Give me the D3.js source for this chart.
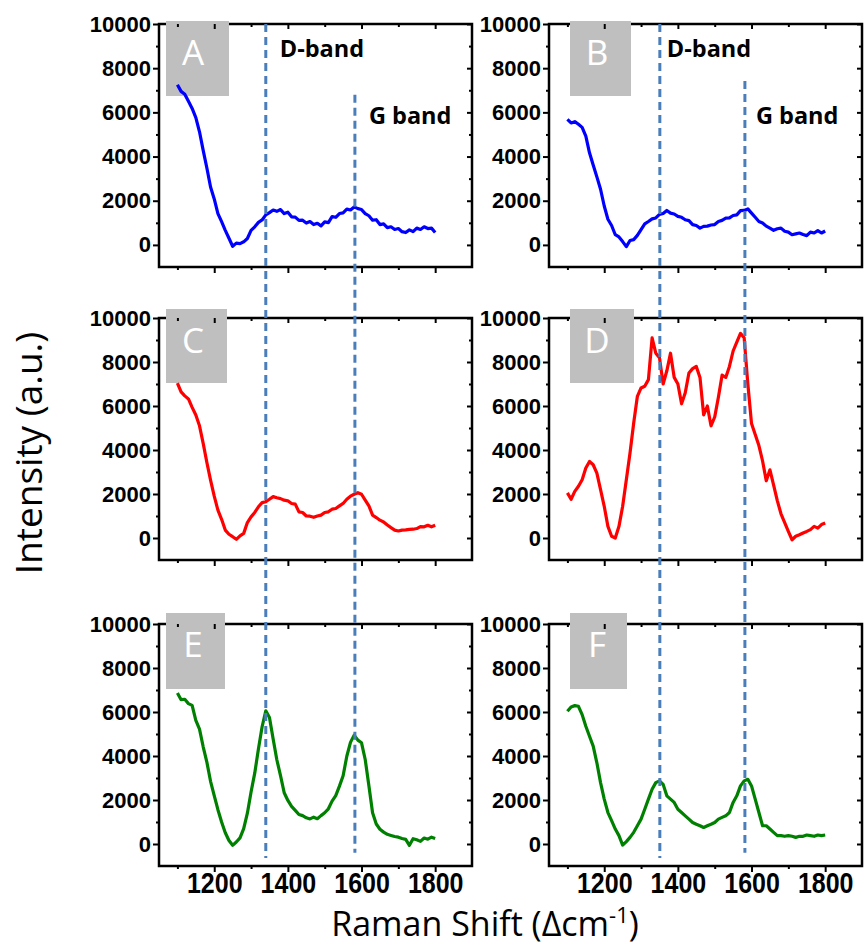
<!DOCTYPE html>
<html lang="en">
<head>
<meta charset="UTF-8">
<script src="https://d3js.org/d3.v7.min.js"></script>
<title>Raman spectra</title>
<style>
  body { margin: 0; background: #fff; }
</style>
</head>
<body>
<div id="chart"></div>
<script>
// ---------------- data ----------------
var shift = d3.range(1100, 1801, 10);   // Raman shift, cm-1

var specA = [7250, 6950, 6820, 6500, 6180, 5760, 5120, 4280, 3480, 2620,
  2080, 1420, 1050, 660, 300, -60, 80, 60, 140, 290,
  660, 820, 1020, 1130, 1360, 1460, 1580, 1520, 1600, 1420,
  1480, 1270, 1260, 1110, 1120, 990, 1060, 920, 980, 860,
  1040, 1010, 1280, 1250, 1420, 1450, 1620, 1580, 1720, 1640,
  1600, 1420, 1320, 1120, 1140, 920, 950, 780, 820, 700,
  740, 600, 560, 680, 600, 760, 700, 820, 740, 760,
  560];
var specB = [5680, 5520, 5580, 5460, 5320, 4920, 4170, 3620, 3080, 2520,
  1760, 1160, 880, 460, 360, 150, -80, 200, 240, 430,
  690, 950, 1060, 1180, 1220, 1380, 1420, 1560, 1440, 1400,
  1290, 1250, 1140, 1100, 920, 880, 760, 840, 850, 900,
  920, 1060, 1110, 1210, 1220, 1330, 1360, 1550, 1560, 1630,
  1440, 1250, 1060, 990, 850, 760, 660, 730, 760, 620,
  580, 460, 500, 540, 470, 420, 580, 540, 650, 540,
  630];
var specC = [7040, 6640, 6460, 6320, 5940, 5590, 5100, 4300, 3430, 2630,
  1900, 1270, 850, 360, 170, 60, -60, 100, 210, 700,
  960, 1160, 1420, 1610, 1650, 1760, 1880, 1830, 1790, 1720,
  1690, 1570, 1540, 1190, 1160, 1000, 990, 940, 1000, 1040,
  1160, 1190, 1310, 1340, 1460, 1570, 1760, 1900, 1990, 2060,
  1990, 1720, 1460, 1040, 930, 810, 730, 590, 470, 360,
  320, 360, 370, 390, 400, 430, 520, 510, 580, 510,
  580];
var specD = [2050, 1760, 2120, 2350, 2650, 3180, 3480, 3330, 2950, 2200,
  1440, 530, 80, 0, 530, 1440, 2650, 3860, 5230, 6440,
  6820, 6900, 7200, 9100, 8400, 8200, 7000, 7600, 8400, 7300,
  7000, 6100, 6600, 7500, 7700, 7800, 7300, 5600, 6000, 5100,
  5500, 6400, 7400, 7300, 7800, 8500, 8900, 9300, 9100, 7000,
  5200, 4700, 4200, 3500, 2600, 3100, 2400, 1700, 1100, 700,
  300, -80, 80, 150, 230, 300, 380, 530, 450, 610,
  680];
var specE = [6860, 6560, 6580, 6380, 6300, 5620, 5220, 4420, 3720, 2850,
  2200, 1560, 1000, 510, 160, -60, 90, 280, 700, 1400,
  2360, 3220, 4320, 5330, 6050, 5750, 4770, 3830, 3110, 2330,
  1980, 1710, 1530, 1340, 1290, 1190, 1140, 1220, 1150, 1290,
  1420, 1600, 1950, 2200, 2630, 3100, 3990, 4620, 4950, 4720,
  4600, 3840, 2650, 1420, 910, 670, 540, 440, 390, 340,
  310, 250, 210, -60, 240, 190, 120, 270, 220, 310,
  250];
var specF = [6030, 6230, 6290, 6260, 5880, 5350, 4900, 4450, 3690, 2790,
  2040, 1430, 1060, 680, 380, -50, 110, 300, 530, 830,
  1130, 1580, 2040, 2490, 2790, 2870, 2710, 2190, 2040, 1890,
  1580, 1430, 1280, 1130, 980, 900, 830, 750, 830, 900,
  980, 1130, 1210, 1280, 1430, 1890, 2190, 2640, 2870, 2940,
  2640, 2040, 1430, 830, 830, 680, 530, 380, 380, 350,
  380, 350, 300, 350, 350, 410, 380, 350, 410, 380,
  410];

var yTicks = [0, 2000, 4000, 6000, 8000, 10000];
var yMinor = [1000, 3000, 5000, 7000, 9000];
var xTicks = [1200, 1400, 1600, 1800];
var xMinor = [1100, 1300, 1500, 1700];

// dashed band markers per column: [D-band, G band] position, top value, bottom value
var bandPos = [[1340, 1582], [1351, 1582]];
var bandTop = [[10000, 6800], [10000, 7420]];
var bandBottom = [-640, -400];
var bandNames = ["D-band", "G band"];

// ---------------- layout ----------------
var width = 865, height = 949;
var cols = [[159, 472], [549, 862]];
var rows = [[24, 267], [318, 560], [624, 866]];

var panels = [
  {label: "A", values: specA, color: "#0000ff", col: 0, row: 0, box: [7, -3, 63, 75]},
  {label: "B", values: specB, color: "#0000ff", col: 1, row: 0, box: [21, -3, 61, 75]},
  {label: "C", values: specC, color: "#ff0000", col: 0, row: 1, box: [7, -9, 61, 74]},
  {label: "D", values: specD, color: "#ff0000", col: 1, row: 1, box: [21, -9, 64, 74]},
  {label: "E", values: specE, color: "#008000", col: 0, row: 2, box: [7, -11, 59, 76]},
  {label: "F", values: specF, color: "#008000", col: 1, row: 2, box: [21, -11, 57, 76]}
];

var svg = d3.select("#chart").append("svg")
  .attr("width", width).attr("height", height)
  .style("font-family", "'Liberation Sans', Arial, sans-serif");

svg.append("rect").attr("width", width).attr("height", height).attr("fill", "#fff");

var xScales = cols.map(function(c) {
  return d3.scaleLinear().domain([1050, 1900]).range(c);
});
var yScales = rows.map(function(r) {
  return d3.scaleLinear().domain([-1000, 10000]).range([r[1], r[0]]);
});

panels.forEach(function(p) {
  var x = xScales[p.col], y = yScales[p.row];
  var g = svg.append("g");
  var x0 = cols[p.col][0], x1 = cols[p.col][1];
  var y0 = rows[p.row][0], y1 = rows[p.row][1];

  function clean(a) { a.select(".domain").remove(); }

  // frame
  g.append("rect")
    .attr("x", x0).attr("y", y0)
    .attr("width", x1 - x0).attr("height", y1 - y0)
    .attr("fill", "none").attr("stroke", "#000").attr("stroke-width", 2.5);

  // letter box (sits over the frame, under ticks and curve)
  g.append("rect")
    .attr("x", x0 + p.box[0]).attr("y", y0 + p.box[1])
    .attr("width", p.box[2]).attr("height", p.box[3])
    .attr("fill", "#bfbfbf");

  // left axis
  g.append("g").attr("transform", "translate(" + x0 + ",0)")
    .call(d3.axisLeft(y).tickValues(yTicks).tickSize(6).tickPadding(2).tickFormat(d3.format("d")))
    .call(clean)
    .call(function(a) {
      a.selectAll("line").attr("stroke-width", 2);
      a.selectAll("text").attr("font-size", 22).attr("font-weight", "bold")
        .attr("font-family", "'Liberation Sans', Arial, sans-serif").attr("fill", "#000");
    });
  g.append("g").attr("transform", "translate(" + x0 + ",0)")
    .call(d3.axisLeft(y).tickValues(yMinor).tickSize(3).tickFormat(""))
    .call(clean).selectAll("line").attr("stroke-width", 2);

  // right axis (inward)
  g.append("g").attr("transform", "translate(" + x1 + ",0)")
    .call(d3.axisRight(y).tickValues(yTicks).tickSize(-5).tickFormat(""))
    .call(clean).selectAll("line").attr("stroke-width", 2);
  g.append("g").attr("transform", "translate(" + x1 + ",0)")
    .call(d3.axisRight(y).tickValues(yMinor).tickSize(-3).tickFormat(""))
    .call(clean).selectAll("line").attr("stroke-width", 2);

  // bottom axis
  var bottom = g.append("g").attr("transform", "translate(0," + y1 + ")")
    .call(d3.axisBottom(x).tickValues(xTicks).tickSize(6)
      .tickFormat(p.row === 2 ? d3.format("d") : ""))
    .call(clean);
  bottom.selectAll("line").attr("stroke-width", 2);
  bottom.selectAll("text")
    .attr("font-size", 25).attr("font-weight", "bold").attr("fill", "#000")
    .attr("font-family", "'Liberation Sans', Arial, sans-serif")
    .attr("y", 0).attr("dy", 0)
    .attr("transform", "translate(0,27) scale(1,1.2)");
  g.append("g").attr("transform", "translate(0," + y1 + ")")
    .call(d3.axisBottom(x).tickValues(xMinor).tickSize(3).tickFormat(""))
    .call(clean).selectAll("line").attr("stroke-width", 2);

  // top axis (inward)
  g.append("g").attr("transform", "translate(0," + y0 + ")")
    .call(d3.axisTop(x).tickValues(xTicks).tickSize(-5).tickFormat(""))
    .call(clean).selectAll("line").attr("stroke-width", 2);
  g.append("g").attr("transform", "translate(0," + y0 + ")")
    .call(d3.axisTop(x).tickValues(xMinor).tickSize(-3).tickFormat(""))
    .call(clean).selectAll("line").attr("stroke-width", 2);

  // spectrum
  var line = d3.line()
    .x(function(d, i) { return x(shift[i]); })
    .y(function(d) { return y(d); });
  g.append("path")
    .datum(p.values)
    .attr("d", line)
    .attr("fill", "none")
    .attr("stroke", p.color)
    .attr("stroke-width", 3.2)
    .attr("stroke-linejoin", "round");

  g.append("text")
    .attr("x", x0 + p.box[0] + 27).attr("y", y0 + p.box[1] + 44)
    .attr("text-anchor", "middle")
    .attr("font-family", "'Open Sans', 'Noto Sans', sans-serif")
    .attr("font-size", 35)
    .attr("fill", "#fff")
    .text(p.label);
});

// dashed band lines, spanning the three rows of each column
[0, 1].forEach(function(c) {
  var x = xScales[c];
  bandPos[c].forEach(function(v, k) {
    svg.append("line")
      .attr("x1", x(v)).attr("x2", x(v))
      .attr("y1", yScales[0](bandTop[c][k]))
      .attr("y2", yScales[2](bandBottom[k]))
      .attr("stroke", "#4a7ebb")
      .attr("stroke-width", 3)
      .attr("stroke-dasharray", "8,5");
  });
  // band names in the top row
  svg.append("text")
    .attr("x", x(bandPos[c][0]) + (c === 0 ? 14 : 7)).attr("y", 57)
    .attr("font-family", "'Open Sans', 'Noto Sans', sans-serif")
    .attr("font-weight", "bold").attr("font-size", 23.5)
    .text(bandNames[0]);
  svg.append("text")
    .attr("x", x(bandPos[c][1]) + (c === 0 ? 14 : 11)).attr("y", 124)
    .attr("font-family", "'Open Sans', 'Noto Sans', sans-serif")
    .attr("font-weight", "bold").attr("font-size", 23.5)
    .text(bandNames[1]);
});

// axis titles
svg.append("text")
  .attr("transform", "translate(42,453) rotate(-90)")
  .attr("text-anchor", "middle")
  .attr("font-family", "'Open Sans', 'Noto Sans', sans-serif")
  .attr("font-size", 37)
  .text("Intensity (a.u.)");

var xt = svg.append("text")
  .attr("x", 485).attr("y", 936)
  .attr("text-anchor", "middle")
  .attr("font-family", "'Open Sans', 'Noto Sans', sans-serif")
  .attr("font-size", 34);
xt.append("tspan").text("Raman Shift (\u0394cm");
xt.append("tspan").attr("font-size", 22).attr("dy", -13).text("-1");
xt.append("tspan").attr("dy", 13).text(")");
</script>
</body>
</html>
